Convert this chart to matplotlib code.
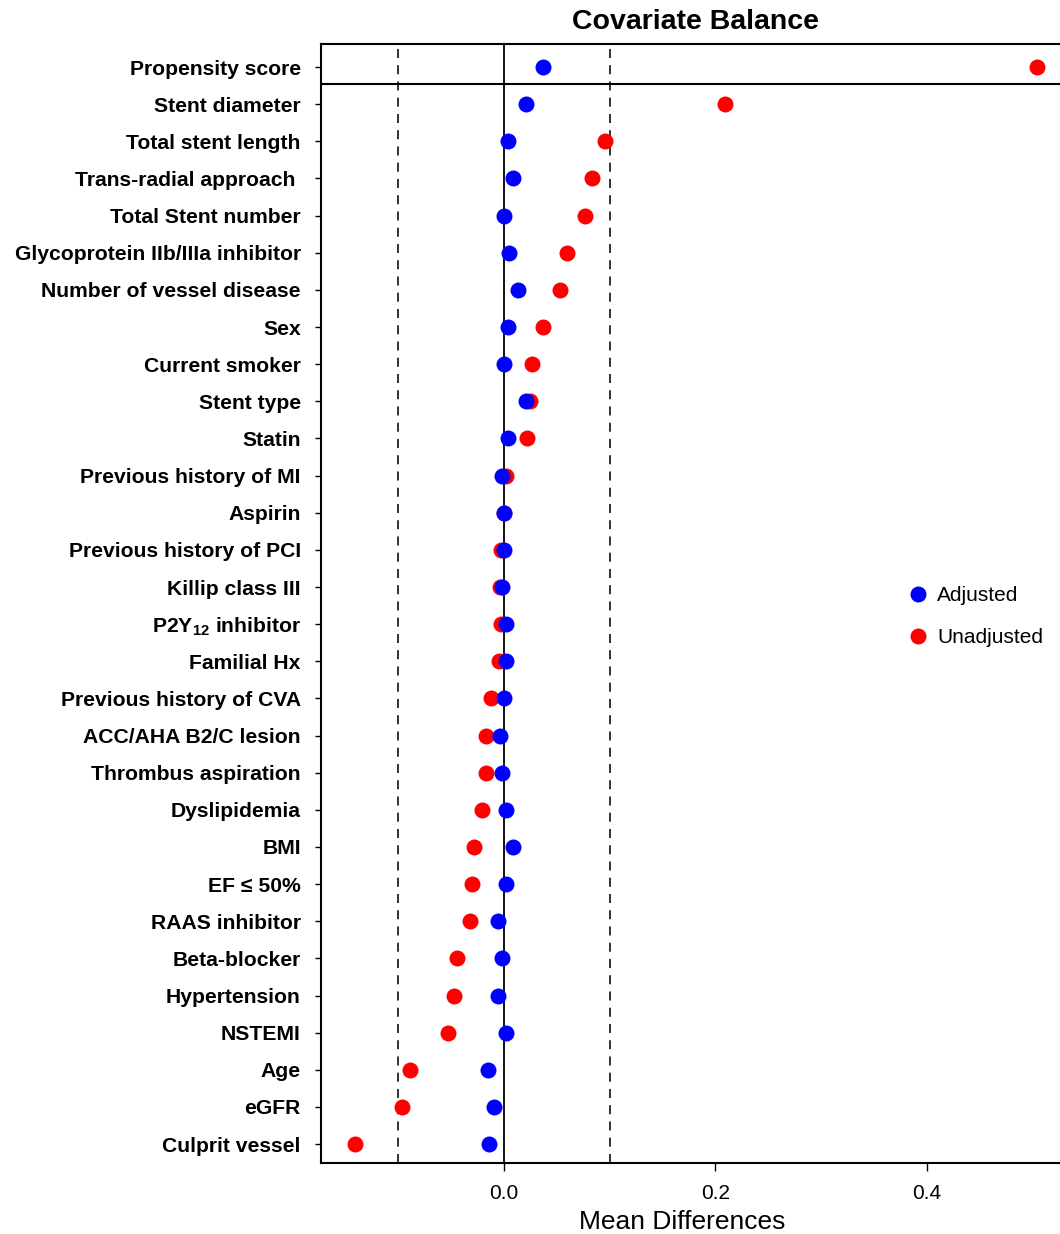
import matplotlib
matplotlib.use("Agg")
import matplotlib.pyplot as plt
import numpy as np

plt.rcParams['font.family'] = ['Liberation Sans', 'DejaVu Sans']
plt.rcParams['mathtext.fontset'] = 'custom'
plt.rcParams['mathtext.rm'] = 'Liberation Sans'
plt.rcParams['mathtext.bf'] = 'Liberation Sans:bold'

# covariates, top to bottom
covariates = [
    'Propensity score', 'Stent diameter', 'Total stent length',
    'Trans-radial approach ', 'Total Stent number',
    'Glycoprotein IIb/IIIa inhibitor', 'Number of vessel disease', 'Sex',
    'Current smoker', 'Stent type', 'Statin', 'Previous history of MI',
    'Aspirin', 'Previous history of PCI', 'Killip class III',
    r'P2Y$_\mathbf{12}$ inhibitor', 'Familial Hx', 'Previous history of CVA',
    'ACC/AHA B2/C lesion', 'Thrombus aspiration', 'Dyslipidemia', 'BMI',
    'EF \u2264 50%', 'RAAS inhibitor', 'Beta-blocker', 'Hypertension',
    'NSTEMI', 'Age', 'eGFR', 'Culprit vessel',
]
unadjusted = [
    0.504, 0.209, 0.096, 0.083, 0.077, 0.060, 0.053, 0.037, 0.027, 0.025,
    0.022, 0.002, 0.000, -0.003, -0.004, -0.003, -0.005, -0.012, -0.017,
    -0.017, -0.021, -0.028, -0.030, -0.032, -0.044, -0.047, -0.053,
    -0.089, -0.096, -0.141,
]
adjusted = [
    0.037, 0.021, 0.004, 0.009, 0.000, 0.005, 0.013, 0.004, 0.000, 0.021,
    0.004, -0.002, 0.000, 0.000, -0.002, 0.002, 0.002, 0.000, -0.004,
    -0.002, 0.002, 0.009, 0.002, -0.006, -0.002, -0.006, 0.002, -0.015,
    -0.009, -0.014,
]
xticks = [0.0, 0.2, 0.4]

n = len(covariates)
ypos = np.arange(n, 0, -1)

fig = plt.figure(figsize=(10.6, 12.34), dpi=100)
ax = fig.add_axes([0.3028, 0.0575, 0.6972, 0.9068])

ax.axvline(0, color='black', lw=1.3, zorder=1)
for xv in (-0.1, 0.1):
    ax.axvline(xv, color='#222222', lw=1.3, ls=(0, (5, 4)), zorder=1)
ax.axhline(n - 0.46, color='black', lw=1.5, zorder=1)

ax.plot(unadjusted, ypos, 'o', color='red', ms=11.5, mew=0,
        label='Unadjusted', zorder=2)
ax.plot(adjusted, ypos, 'o', color='blue', ms=11.5, mew=0,
        label='Adjusted', zorder=3)

ax.set_xlim(-0.173, 0.5258)
ax.set_ylim(0.49, n + 0.62)
ax.set_yticks(ypos)
ax.set_yticklabels(covariates, fontsize=15.2, fontweight='bold')
ax.set_xticks(xticks)
ax.set_xticklabels(['%.1f' % v for v in xticks], fontsize=15)
ax.tick_params(axis='y', length=4, width=1, pad=10.5)
ax.tick_params(axis='x', length=6, width=1, pad=9)
ax.set_xlabel('Mean Differences', fontsize=19, labelpad=5, x=0.489)
ax.set_title('Covariate Balance', fontsize=20.5, fontweight='bold',
             pad=11, x=0.507)

for side in ('left', 'bottom', 'top'):
    ax.spines[side].set_linewidth(1.5)
ax.spines['right'].set_visible(False)

handles, labels = ax.get_legend_handles_labels()
ax.legend(handles[::-1], labels[::-1], loc='center left',
          bbox_to_anchor=(0.783, 0.4885), frameon=False, fontsize=15,
          handlelength=0.8, handletextpad=0.5, labelspacing=1.1,
          borderpad=0)

fig.savefig('out.png', dpi=100)
